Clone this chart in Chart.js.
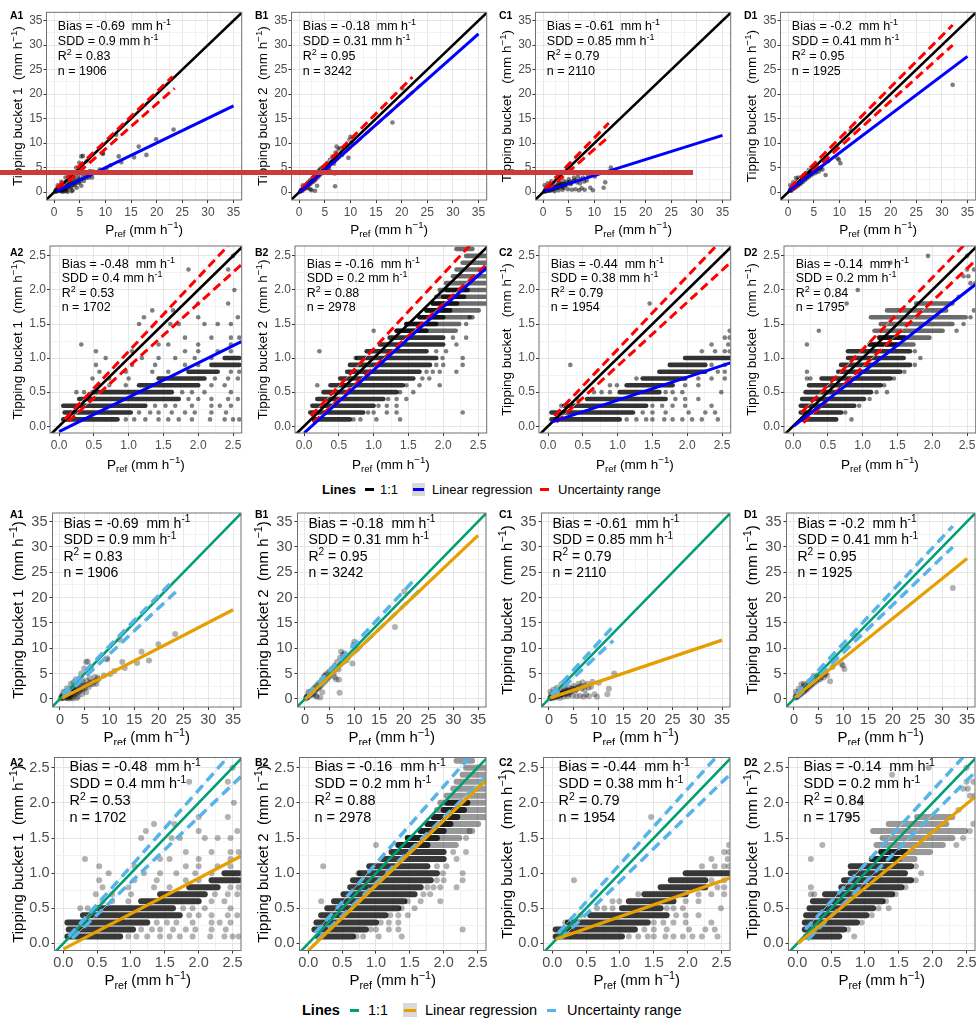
<!DOCTYPE html>
<html lang="en">
<head>
<meta charset="UTF-8">
<title>Tipping bucket vs reference intensity</title>
<script src="https://cdn.jsdelivr.net/npm/chart.js@4.4.1/dist/chart.umd.min.js"></script>
<style>
  html, body { margin: 0; padding: 0; background: #fff; }
  body { width: 976px; height: 1019px; position: relative; overflow: hidden; font-family: "Liberation Sans", Arial, sans-serif; }
  canvas.panel { position: absolute; }
  .lg { position: absolute; white-space: nowrap; color: #000; line-height: 1; }
  .key { position: absolute; height: 3px; }
  .box { position: absolute; background: #D9D9D9; }
  #redbar { position: absolute; left: 0; top: 169.5px; width: 693px; height: 5px; background: #CC3B3B; z-index: 5; }
</style>
</head>
<body>
<div id="figure"></div>

<!-- legend, upper block -->
<div class="lg" style="left:322px;top:482.5px;font-size:13px;font-weight:bold">Lines</div>
<div class="key" style="left:365px;top:487.5px;width:9px;background:#000"></div>
<div class="lg" style="left:380px;top:482.5px;font-size:13px">1:1</div>
<div class="box" style="left:412px;top:482.5px;width:13px;height:13px"><div class="key" style="left:1px;top:5px;width:11px;background:#0000FF"></div></div>
<div class="lg" style="left:432px;top:482.5px;font-size:13px">Linear regression</div>
<div class="key" style="left:540px;top:487.5px;width:9px;background:#FF0000"></div>
<div class="lg" style="left:558px;top:482.5px;font-size:13px">Uncertainty range</div>

<!-- legend, lower block -->
<div class="lg" style="left:302px;top:1002.5px;font-size:14.5px;font-weight:bold">Lines</div>
<div class="key" style="left:350px;top:1008.5px;width:9px;background:#009E73"></div>
<div class="lg" style="left:368px;top:1002.5px;font-size:14.5px">1:1</div>
<div class="box" style="left:403px;top:1003px;width:14px;height:14px"><div class="key" style="left:1px;top:5.5px;width:12px;background:#E69F00"></div></div>
<div class="lg" style="left:425px;top:1002.5px;font-size:14.5px">Linear regression</div>
<div class="key" style="left:547px;top:1008.5px;width:9px;background:#56B4E9"></div>
<div class="lg" style="left:567px;top:1002.5px;font-size:14.5px">Uncertainty range</div>

<div id="redbar"></div>

<script>
// ---------- axis breaks and limits ----------
const bigTicks = [0, 5, 10, 15, 20, 25, 30, 35];
const smallTicks = [0, 0.5, 1, 1.5, 2, 2.5];
const bigX = [-1.5, 36.6], bigY = [-1.6, 36.7];
const smallX = [-0.13, 2.625], smallY = [-0.1, 2.645];
const bigDiag = [-2, 40], smallDiag = [-0.2, 2.8];   // 1:1 line ends

// ---------- statistics printed in each panel ----------
const panelIds = ['A1', 'B1', 'C1', 'D1', 'A2', 'B2', 'C2', 'D2'];
const gaugeNames = ['Tipping bucket 1', 'Tipping bucket 2', 'Tipping bucket ', 'Tipping bucket ',
                    'Tipping bucket 1', 'Tipping bucket 2', 'Tipping bucket ', 'Tipping bucket '];
const biasVals = ['-0.69', '-0.18', '-0.61', '-0.2', '-0.48', '-0.16', '-0.44', '-0.14'];
const sddVals = ['0.9', '0.31', '0.85', '0.41', '0.4', '0.2', '0.38', '0.2'];
const r2Vals = ['0.83', '0.95', '0.79', '0.95', '0.53', '0.88', '0.79', '0.84'];
const nVals = [1906, 3242, 2110, 1925, 1702, 2978, 1954, 1795];

// ---------- full range panels: points [Pref, TB] ----------
const a1Points = [[0.2,0.1],[0.3,0.4],[0.5,0.2],[0.6,0.7],[0.8,0.3],[0.9,1.0],[1.0,0.5],[1.1,1.3],[1.2,0.2],[1.3,0.8],
  [1.5,1.5],[1.6,0.4],[1.7,1.0],[1.9,1.8],[2.0,0.6],[2.1,1.2],[2.3,2.1],[2.4,0.3],[2.5,1.4],[2.7,2.5],[2.8,0.8],
  [3.0,1.7],[3.1,2.8],[3.3,1.0],[3.5,2.1],[3.6,0.4],[3.8,3.1],[4.0,1.4],[4.2,2.5],[4.4,0.9],[4.6,3.4],[4.8,1.9],
  [5.0,2.8],[5.3,1.3],[5.5,3.6],[5.8,2.3],[6.0,4.1],[6.3,2.9],[6.6,3.4],[7.0,4.3],[7.4,3.0],[7.8,3.9],[0.7,1.4],
  [1.4,2.1],[2.2,3.0],[3.2,3.9],[4.3,5.0],[4.9,6.0],[5.3,7.3],[6.3,6.3],[7.6,4.2],[8.9,4.6],[9.5,7.8],[10.2,4.9],
  [11.0,5.5],[12.1,11.7],[12.6,7.3],[13.1,6.1],[15.6,7.1],[16.5,9.3],[18.0,7.6],[19.9,10.8],[23.3,12.8],
  [1.8,0.1],[2.6,0.1],[3.4,0.2],[0.4,0.2],[0.6,0.5],[0.9,0.4],[1.1,0.7],[1.3,0.5],[1.4,1.0],[1.6,0.7],[1.8,1.2],
  [2.0,0.9],[2.2,1.5],[2.3,0.8],[2.5,1.9],[2.6,1.1],[2.9,1.4],[3.0,2.3],[3.2,1.2],[3.4,1.8],[3.7,1.5],[3.9,2.2],
  [4.1,1.8],[4.5,2.0],[4.7,2.6],[5.1,2.2],[5.6,2.8],[6.1,3.2],[6.8,3.0],[7.2,3.6],[0.5,0.6],[1.0,1.1],[1.5,0.2],
  [2.1,0.3],[3.9,3.6],[5.6,7.4],[9.5,8.0],[2.8,3.3],[4.4,3.9]];
const a1Reg = [[0.45, 0.15], [35, 17.6]];
const a1Upper = [[0.5, 0.9], [23.1, 23.6]];
const a1Lower = [[0.7, 0.3], [23.5, 21.2]];

const b1Points = [[0.2,0.1],[0.4,0.5],[0.6,0.3],[0.8,0.9],[1.0,0.6],[1.1,1.3],[1.3,0.9],[1.5,1.7],[1.6,1.1],[1.8,2.0],
  [2.0,1.5],[2.1,2.4],[2.3,1.8],[2.4,0.4],[2.5,2.8],[2.7,2.1],[2.9,3.2],[3.1,0.3],[3.2,2.6],[3.4,3.8],[3.6,3.0],
  [3.8,4.3],[4.0,3.4],[4.2,4.8],[4.4,3.8],[4.6,5.1],[4.8,4.2],[5.0,5.5],[5.2,4.6],[5.5,6.0],[5.8,5.0],[6.0,6.6],
  [6.0,4.3],[6.3,3.9],[6.5,7.3],[6.8,5.8],[6.9,3.8],[7.0,1.2],[7.1,8.1],[7.3,9.3],[7.7,8.7],[8.0,9.0],[8.4,7.6],
  [9.6,7.0],[9.8,10.7],[10.0,11.3],[10.5,9.8],[18.2,14.2],[20.1,21.2],[0.7,1.4],[1.7,0.8],[2.2,0.6],[3.5,1.3],
  [0.3,0.3],[0.5,0.4],[0.7,0.7],[0.9,0.7],[1.2,1.1],[1.4,1.3],[1.6,1.5],[1.9,1.7],[2.2,2.1],[2.6,2.3],[2.8,2.7],
  [3.0,2.9],[3.3,3.1],[3.5,3.4],[3.7,3.6],[3.9,3.7],[4.1,4.0],[4.3,4.1],[4.5,4.4],[4.7,4.5],[4.9,4.8],[5.3,5.1],
  [5.6,5.4],[6.2,5.9],[6.6,6.2],[7.2,6.8],[1.0,1.0],[2.0,1.9],[3.0,2.4],[4.0,4.5]];
const b1Reg = [[0.1, -0.05], [35, 32.3]];
const b1Upper = [[0.5, 0.8], [22.1, 23.5]];
const b1Lower = [[0.6, 0.3], [23.7, 21.9]];

const c1Points = [[0.2,0.1],[0.4,0.5],[0.6,0.2],[0.8,0.8],[1.0,0.4],[1.1,1.2],[1.3,0.3],[1.5,0.9],[1.7,1.5],[1.8,0.5],
  [2.0,1.1],[2.2,0.2],[2.4,1.6],[2.6,0.8],[2.8,1.3],[3.0,0.4],[3.2,2.0],[3.4,1.0],[3.6,1.7],[3.8,0.5],[4.0,2.3],
  [4.3,1.3],[4.6,2.0],[4.8,0.6],[5.0,2.6],[5.3,1.6],[5.6,0.5],[5.8,2.2],[6.0,3.0],[6.3,0.6],[6.5,2.5],[6.8,3.3],
  [7.0,0.4],[7.2,1.8],[7.5,0.8],[7.8,3.0],[8.1,0.5],[8.5,2.4],[8.8,3.4],[9.2,0.9],[9.7,0.4],[10.1,3.2],[11.8,0.9],
  [12.1,2.0],[13.2,5.0],[0.9,1.8],[1.6,2.2],[2.5,2.9],[0.3,1.4],[0.3,0.2],[0.5,0.3],[0.7,0.5],[0.9,0.3],[1.2,0.6],
  [1.4,0.4],[1.6,0.8],[1.9,0.7],[2.1,0.6],[2.3,1.0],[2.7,1.0],[2.9,0.9],[3.1,1.3],[3.5,1.4],[3.7,1.1],[3.9,1.6],
  [4.2,1.7],[4.5,1.5],[4.9,1.9],[5.2,2.1],[5.5,1.8],[6.1,2.4],[6.6,2.0],[7.3,2.6],[8.0,2.2],[1.0,0.8],[2.0,1.4],
  [3.0,1.8],[4.0,0.9],[0.6,0.9]];
const c1Reg = [[0.3, 0.2], [35, 11.6]];
const c1Upper = [[0.4, 0.8], [12.8, 14.1]];
const c1Lower = [[0.6, 0.2], [13.0, 11.5]];

const d1Points = [[0.3,0.3],[0.5,0.7],[0.6,0.3],[0.8,1.0],[0.9,0.6],[1.1,1.3],[1.2,0.8],[1.4,1.6],[1.5,1.0],[1.7,1.9],
  [1.9,1.3],[2.0,2.2],[2.2,1.6],[2.4,2.6],[2.5,1.8],[2.7,2.9],[2.9,2.1],[3.1,3.2],[3.3,2.5],[3.4,3.6],[3.6,2.8],
  [3.8,3.9],[4.0,3.1],[4.2,4.2],[4.4,3.4],[4.6,4.6],[4.8,3.7],[5.0,4.4],[5.3,3.9],[5.6,4.8],[6.0,4.2],[6.4,5.0],
  [6.7,4.6],[7.3,3.5],[7.8,6.3],[9.6,6.9],[9.9,6.6],[10.2,5.9],[12.2,12.6],[32.1,21.9],[1.0,2.0],[2.0,3.0],
  [0.4,1.4],[1.5,2.9],[0.4,0.4],[0.6,0.5],[0.8,0.7],[1.0,0.9],[1.2,1.1],[1.4,1.2],[1.6,1.4],[1.8,1.5],[2.0,1.7],
  [2.2,2.0],[2.4,2.1],[2.6,2.3],[2.8,2.5],[3.0,2.7],[3.2,2.9],[3.4,3.0],[3.6,3.2],[3.8,3.4],[4.0,3.6],[4.3,3.8],
  [4.6,4.0],[4.9,4.2],[5.2,4.5],[5.5,4.2],[5.8,5.0],[6.2,4.8],[1.0,1.3],[2.0,2.5],[3.0,3.4],[4.0,4.5]];
const d1Reg = [[0.2, 0.3], [35, 27.7]];
const d1Upper = [[0.4, 0.9], [32.1, 34.1]];
const d1Lower = [[0.6, 0.3], [32.1, 30.0]];

// ---------- 0 - 2.5 mm/h panels ----------
// bands: [TB, Pref from, Pref to] rows where points overlap into a solid run
const a2Bands = [[0.1,0.06,0.84],[0.2,0.08,1.03],[0.3,0.06,1.24],[0.4,0.29,1.72],[0.5,0.48,1.62],[0.6,1.15,2.0],
  [0.7,1.43,2.09],[0.8,1.86,2.28],[0.9,2.19,2.59],[1.0,2.38,2.59]];
const a2Faint = [];
const a2Points = [[0.96,0.1],[1.08,0.1],[1.24,0.1],[1.43,0.1],[1.57,0.1],[1.72,0.1],[1.91,0.1],[2.17,0.1],[2.38,0.1],
  [2.5,0.1],[2.59,0.1],[1.15,0.2],[1.31,0.2],[1.43,0.2],[1.62,0.2],[1.81,0.2],[1.95,0.2],[2.19,0.2],[2.4,0.2],
  [1.38,0.3],[1.53,0.3],[1.67,0.3],[1.91,0.3],[2.19,0.3],[2.31,0.3],[2.47,0.3],[1.86,0.4],[2.0,0.4],[2.19,0.4],
  [2.43,0.4],[2.57,0.4],[0.25,0.5],[0.36,0.5],[1.77,0.5],[1.91,0.5],[2.09,0.5],[2.47,0.5],[0.58,0.6],[0.72,0.6],
  [0.96,0.6],[2.19,0.6],[2.38,0.6],[0.48,0.7],[0.72,0.7],[1.0,0.7],[2.24,0.7],[2.43,0.7],[2.57,0.7],[0.58,0.8],
  [0.96,0.8],[1.34,0.8],[1.57,0.8],[2.47,0.8],[2.59,0.8],[0.53,0.9],[1.05,0.9],[1.38,0.9],[1.81,0.9],[2.0,0.9],
  [0.67,1.0],[1.19,1.0],[1.43,1.0],[1.67,1.0],[1.95,1.0],[2.19,1.0],[0.53,1.1],[1.05,1.1],[1.81,1.1],[2.0,1.1],
  [2.28,1.1],[2.47,1.1],[0.32,1.2],[1.43,1.2],[1.57,1.2],[2.0,1.2],[2.47,1.2],[1.81,1.3],[2.19,1.3],[2.47,1.3],
  [2.59,1.3],[1.15,1.5],[1.6,1.5],[1.72,1.5],[2.09,1.5],[2.28,1.5],[2.47,1.5],[1.22,1.6],[2.0,1.6],[2.57,1.6],
  [1.34,1.7],[1.64,1.7],[2.0,1.8],[2.43,1.8],[2.52,2.0],[1.86,2.3],[2.43,2.3],[2.5,2.5]];
const a2Reg = [[0.0, -0.08], [2.62, 1.24]];
const a2Upper = [[0.08, 0.1], [2.43, 2.65]];
const a2Lower = [[0.13, 0.07], [2.62, 2.37]];

const b2Bands = [[0.1,0.14,0.66],[0.2,0.09,0.85],[0.3,0.12,1.0],[0.4,0.19,1.14],[0.5,0.28,1.33],[0.6,0.38,1.42],
  [0.7,0.52,1.57],[0.8,0.62,1.66],[0.9,0.66,1.81],[1.0,0.76,1.9],[1.1,0.9,1.76],[1.2,1.09,2.0],[1.3,1.23,2.0],
  [1.4,1.33,1.76],[1.5,1.47,1.9],[1.6,1.66,2.0],[1.7,1.76,2.1],[1.8,1.85,2.2],[1.9,2.0,2.3],[2.0,2.05,2.35]];
const b2Faint = [[1.4,1.33,2.18],[1.5,1.47,2.23],[1.6,1.66,2.42],[1.7,1.76,2.51],[1.8,1.85,2.61],[1.9,1.9,2.61],
  [2.0,1.95,2.63],[2.1,2.04,2.63],[2.2,2.14,2.63],[2.3,2.19,2.63],[2.4,2.28,2.63],[2.5,2.33,2.63],[2.6,2.19,2.42]];
const b2Points = [[0.71,0.1],[0.81,0.1],[1.04,0.1],[1.38,0.1],[0.92,0.2],[1.0,0.2],[1.19,0.2],[1.33,0.2],[2.28,0.2],
  [1.07,0.3],[1.19,0.3],[1.33,0.3],[1.21,0.4],[1.33,0.4],[1.47,0.4],[1.38,0.5],[1.57,0.5],[0.19,0.6],[1.47,0.6],
  [1.66,0.6],[1.95,0.6],[1.7,0.7],[1.8,0.7],[1.76,0.8],[1.85,0.8],[1.95,0.8],[2.19,0.8],[1.9,0.9],[2.0,0.9],
  [2.28,0.9],[0.74,1.0],[1.99,1.0],[2.28,1.0],[0.22,1.1],[1.9,1.1],[2.04,1.1],[2.19,1.2],[2.14,1.3],[2.33,1.3],
  [1.0,1.4],[2.33,1.5],[2.38,1.6]];
const b2Reg = [[0.0, -0.1], [2.63, 2.33]];
const b2Upper = [[0.1, 0.15], [2.38, 2.65]];
const b2Lower = [[0.13, 0.05], [2.63, 2.38]];

const c2Bands = [[0.1,0.05,1.03],[0.2,0.05,1.22],[0.3,0.23,1.41],[0.4,0.56,1.69],[0.5,1.03,1.6],[0.6,1.13,1.79],
  [0.7,1.36,1.97],[0.8,1.6,2.26],[0.9,1.75,2.26],[1.0,1.97,2.63]];
const c2Faint = [];
const c2Points = [[1.13,0.1],[1.27,0.1],[1.41,0.1],[1.5,0.1],[1.67,0.1],[1.79,0.1],[1.93,0.1],[2.07,0.1],[2.21,0.1],
  [2.44,0.1],[1.36,0.2],[1.5,0.2],[1.69,0.2],[2.02,0.2],[2.26,0.2],[2.4,0.2],[0.19,0.3],[1.5,0.3],[1.64,0.3],
  [1.79,0.3],[1.97,0.3],[2.35,0.3],[0.42,0.4],[1.83,0.4],[1.97,0.4],[2.16,0.4],[0.66,0.5],[0.77,0.5],[0.89,0.5],
  [1.69,0.5],[1.79,0.5],[1.93,0.5],[2.49,0.5],[0.89,0.6],[0.99,0.6],[1.97,0.6],[2.16,0.6],[1.27,0.7],[2.16,0.7],
  [2.35,0.7],[2.54,0.7],[2.44,0.8],[2.54,0.8],[2.35,0.9],[2.54,0.9],[2.21,1.1],[2.4,1.1],[2.54,1.1],[2.61,1.1],
  [2.35,1.2],[2.59,1.2],[2.54,1.3],[2.61,1.3],[2.61,1.4],[0.32,0.9],[1.46,1.8]];
const c2Reg = [[0.05, 0.06], [2.62, 0.93]];
const c2Upper = [[0.09, 0.15], [2.42, 2.65]];
const c2Lower = [[0.12, 0.06], [2.62, 2.4]];

const d2Bands = [[0.1,0.13,0.62],[0.2,0.11,0.69],[0.3,0.11,0.88],[0.4,0.13,1.02],[0.5,0.18,1.12],[0.6,0.23,1.26],
  [0.7,0.41,1.4],[0.8,0.65,1.54],[0.9,0.69,1.68],[1.0,0.79,1.59],[1.1,0.79,1.68],[1.2,1.1,1.5],[1.3,1.24,1.6]];
const d2Faint = [[1.2,1.1,1.73],[1.3,1.24,1.96],[1.4,1.17,2.15],[1.5,1.26,2.29],[1.6,1.12,2.48],[1.7,1.35,2.2],
  [1.8,1.77,2.29]];
const d2Points = [[0.84,0.1],[0.75,0.2],[0.95,0.3],[1.1,0.4],[1.2,0.5],[1.35,0.5],[1.31,0.6],[0.2,0.7],[0.25,0.7],
  [1.45,0.7],[0.2,0.8],[1.6,0.8],[1.75,0.9],[1.83,1.0],[1.75,1.1],[0.2,1.2],[0.37,1.4],[2.35,1.4],[2.45,1.5],
  [2.55,1.6],[2.6,1.7],[0.77,1.8],[2.38,1.9],[0.93,2.0],[2.55,2.1],[2.62,2.1],[2.45,2.2],[2.52,2.2],[2.5,2.3],
  [2.6,2.3],[1.4,2.4],[1.94,2.5],[2.5,2.5]];
const d2Reg = [[0.01, 0.0], [2.62, 2.08]];
const d2Upper = [[0.12, 0.2], [2.45, 2.65]];
const d2Lower = [[0.15, 0.05], [2.62, 2.43]];

// ---------- per-panel table built from the arrays above ----------
const panelData = [
  { pts: a1Points, reg: a1Reg, up: a1Upper, lo: a1Lower },
  { pts: b1Points, reg: b1Reg, up: b1Upper, lo: b1Lower },
  { pts: c1Points, reg: c1Reg, up: c1Upper, lo: c1Lower },
  { pts: d1Points, reg: d1Reg, up: d1Upper, lo: d1Lower },
  { pts: a2Points, bands: a2Bands, faint: a2Faint, reg: a2Reg, up: a2Upper, lo: a2Lower },
  { pts: b2Points, bands: b2Bands, faint: b2Faint, reg: b2Reg, up: b2Upper, lo: b2Lower },
  { pts: c2Points, bands: c2Bands, faint: c2Faint, reg: c2Reg, up: c2Upper, lo: c2Lower },
  { pts: d2Points, bands: d2Bands, faint: d2Faint, reg: d2Reg, up: d2Upper, lo: d2Lower }
];

// colour schemes: upper block and lower (colour-blind safe) block
const themes = [
  { one: '#000000', reg: '#0000FF', unc: '#FF0000', pt: 'rgba(0,0,0,0.5)', band: 'rgba(0,0,0,0.8)',
    faint: 'rgba(0,0,0,0.58)', r: 2.3, bw: 4.6, lw1: 2.6, lwReg: 3, lwUnc: 3, dash: [9, 5] },
  { one: '#009E73', reg: '#E69F00', unc: '#56B4E9', pt: 'rgba(0,0,0,0.3)', band: 'rgba(0,0,0,0.78)',
    faint: 'rgba(0,0,0,0.4)', r: 3, bw: 6, lw1: 2.6, lwReg: 3.2, lwUnc: 3.5, dash: [10, 6] }
];

// row geometry inside each canvas
const rows = [
  { top: 0,   h: 240, padT: 12.3, padR: 1.5, axisH: 40,   yW: 46.5, ann: [11.3, 12.7, 15, 12.5],  tick: 12,   tickPad: 2, yPad: 1, title: 13.5, yTitleX: 17.5, xTitleY: 229, labelY: 16, theme: 0, big: true },
  { top: 240, h: 240, padT: 6,    padR: 1,   axisH: 47,   yW: 50,   ann: [11.7, 17.3, 14.5, 12.5], tick: 12,  tickPad: 2, yPad: 1, title: 13.5, yTitleX: 17.5, xTitleY: 224, labelY: 13, theme: 0, big: false },
  { top: 500, h: 245, padT: 13,   padR: 0.5, axisH: 38,   yW: 52.5, ann: [11, 10, 16.3, 14],       tick: 14.5, tickPad: 1, yPad: 2, title: 15, yTitleX: 17.5, xTitleY: 237, labelY: 15, theme: 1, big: true },
  { top: 745, h: 245, padT: 12.5, padR: 1,   axisH: 39.5, yW: 54.5, ann: [15, 8.7, 17, 14.5],      tick: 14.5, tickPad: 1, yPad: 2, title: 15, yTitleX: 17.5, xTitleY: 235, labelY: 18, theme: 1, big: false }
];
const colX = [0, 245, 489, 734];
const CELL_W = 244;
const FAMILY = '"Liberation Sans", Arial, sans-serif';

// text with super/subscripts; parts = [[text, ''|'sup'|'sub'], ...]
function rich(ctx, parts, x, y, size, align, color) {
  const fontFor = k => (k ? size * 0.72 : size) + 'px ' + FAMILY;
  let w = 0;
  parts.forEach(([t, k]) => { ctx.font = fontFor(k); w += ctx.measureText(t).width; });
  let cx = align === 'center' ? x - w / 2 : x;
  ctx.fillStyle = color;
  ctx.textAlign = 'left';
  ctx.textBaseline = 'alphabetic';
  parts.forEach(([t, k]) => {
    ctx.font = fontFor(k);
    const dy = k === 'sup' ? -size * 0.4 : k === 'sub' ? size * 0.22 : 0;
    ctx.fillText(t, cx, y + dy);
    cx += ctx.measureText(t).width;
  });
}

function withMinors(majors) {
  const out = [];
  majors.forEach((v, i) => {
    out.push(v);
    if (i < majors.length - 1) out.push((v + majors[i + 1]) / 2);
  });
  return out;
}

function decoPlugin(i, row) {
  const lines = [
    [['Bias = ' + biasVals[i] + '  mm h', ''], ['-1', 'sup']],
    [['SDD = ' + sddVals[i] + ' mm h', ''], ['-1', 'sup']],
    [['R', ''], ['2', 'sup'], [' = ' + r2Vals[i], '']],
    [['n = ' + nVals[i], '']]
  ];
  const xTitle = [['P', ''], ['ref', 'sub'], [' (mm h', ''], ['\u22121', 'sup'], [')', '']];
  const yTitle = [[gaugeNames[i] + '  (mm h', ''], ['\u22121', 'sup'], [')', '']];
  return {
    id: 'deco' + i,
    afterDatasetsDraw(chart) {
      const { ctx, chartArea: a } = chart;
      ctx.save();
      ctx.strokeStyle = '#707070';
      ctx.lineWidth = 1;
      ctx.strokeRect(a.left, a.top, a.right - a.left, a.bottom - a.top);
      const [dx, y0, dy, fs] = row.ann;
      lines.forEach((parts, k) => rich(ctx, parts, a.left + dx, a.top + y0 + k * dy + 0.36 * fs, fs, 'left', '#000'));
      ctx.restore();
    },
    afterDraw(chart) {
      const { ctx, chartArea: a } = chart;
      ctx.save();
      rich(ctx, xTitle, (a.left + a.right) / 2, row.xTitleY + 0.36 * row.title, row.title, 'center', '#000');
      ctx.translate(row.yTitleX, (a.top + a.bottom) / 2);
      ctx.rotate(-Math.PI / 2);
      rich(ctx, yTitle, 0, 0.36 * row.title, row.title, 'center', '#000');
      ctx.restore();
      ctx.save();
      ctx.font = 'bold 10.5px ' + FAMILY;
      ctx.fillStyle = '#000';
      ctx.textBaseline = 'middle';
      ctx.fillText(panelIds[i], 10, row.labelY);
      ctx.restore();
    }
  };
}

const xy = p => p.map(([x, y]) => ({ x, y }));

function buildDatasets(pd, th, big) {
  const ds = [];
  const d = big ? bigDiag : smallDiag;
  const line = (data, color, width, extra) => Object.assign({
    data, showLine: true, borderColor: color, borderWidth: width, pointRadius: 0, pointHoverRadius: 0, fill: false
  }, extra || {});
  ds.push(line(xy([[d[0], d[0]], [d[1], d[1]]]), th.one, th.lw1, { order: 3 }));
  [pd.up, pd.lo].forEach(u => {
    ds.push(line(xy(u), '#D2D2D2', 0.8, { order: 4 }));
    ds.push(line(xy(u), th.unc, th.lwUnc, { borderDash: th.dash, order: 2 }));
  });
  ds.push(line(xy(pd.reg), th.reg, th.lwReg, { order: 1 }));
  (pd.faint || []).forEach(([y, x0, x1]) =>
    ds.push(line([{ x: x0, y }, { x: x1, y }], th.faint, th.bw, { borderCapStyle: 'round', order: 6 })));
  (pd.bands || []).forEach(([y, x0, x1]) =>
    ds.push(line([{ x: x0, y }, { x: x1, y }], th.band, th.bw, { borderCapStyle: 'round', order: 6 })));
  ds.push({
    data: xy(pd.pts), showLine: false, pointRadius: th.r, pointHoverRadius: th.r,
    pointBackgroundColor: th.pt, backgroundColor: th.pt, pointBorderWidth: 0, borderWidth: 0, order: 5
  });
  return ds;
}

function axis(row, isX, range, majors) {
  const all = withMinors(majors);
  const isMajor = v => majors.includes(v);
  return {
    type: 'linear',
    position: isX ? 'bottom' : 'left',
    min: range[0],
    max: range[1],
    afterBuildTicks: s => { s.ticks = all.map(v => ({ value: v })); },
    afterFit: s => {
      if (isX) { s.height = row.axisH; s.paddingLeft = 0; s.paddingRight = 0; }
      else { s.width = row.yW; s.paddingTop = 0; s.paddingBottom = 0; }
    },
    ticks: {
      autoSkip: false, maxRotation: 0, minRotation: 0,
      padding: isX ? row.tickPad : row.yPad,
      color: '#4D4D4D',
      font: { family: FAMILY, size: row.tick },
      callback: v => isMajor(v) ? (row.big ? String(v) : v.toFixed(1)) : ''
    },
    grid: {
      color: c => isMajor(c.tick.value) ? '#E6E6E6' : '#F2F2F2',
      lineWidth: 1,
      tickLength: 3,
      tickColor: c => isMajor(c.tick.value) ? '#333333' : 'rgba(0,0,0,0)'
    },
    border: { display: false }
  };
}

const fig = document.getElementById('figure');
rows.forEach((row, r) => {
  const th = themes[row.theme];
  for (let c = 0; c < 4; c++) {
    const i = (r % 2) * 4 + c;
    const cv = document.createElement('canvas');
    cv.className = 'panel';
    cv.width = CELL_W;
    cv.height = row.h;
    cv.style.left = colX[c] + 'px';
    cv.style.top = row.top + 'px';
    cv.style.width = CELL_W + 'px';
    cv.style.height = row.h + 'px';
    fig.appendChild(cv);
    new Chart(cv.getContext('2d'), {
      type: 'scatter',
      data: { datasets: buildDatasets(panelData[i], th, row.big) },
      options: {
        responsive: false,
        animation: false,
        events: [],
        layout: { padding: { top: row.padT, left: 0, right: row.padR, bottom: 0 } },
        plugins: { legend: { display: false }, tooltip: { enabled: false } },
        scales: {
          x: axis(row, true, row.big ? bigX : smallX, row.big ? bigTicks : smallTicks),
          y: axis(row, false, row.big ? bigY : smallY, row.big ? bigTicks : smallTicks)
        }
      },
      plugins: [decoPlugin(i, row)]
    });
  }
});
</script>
</body>
</html>
